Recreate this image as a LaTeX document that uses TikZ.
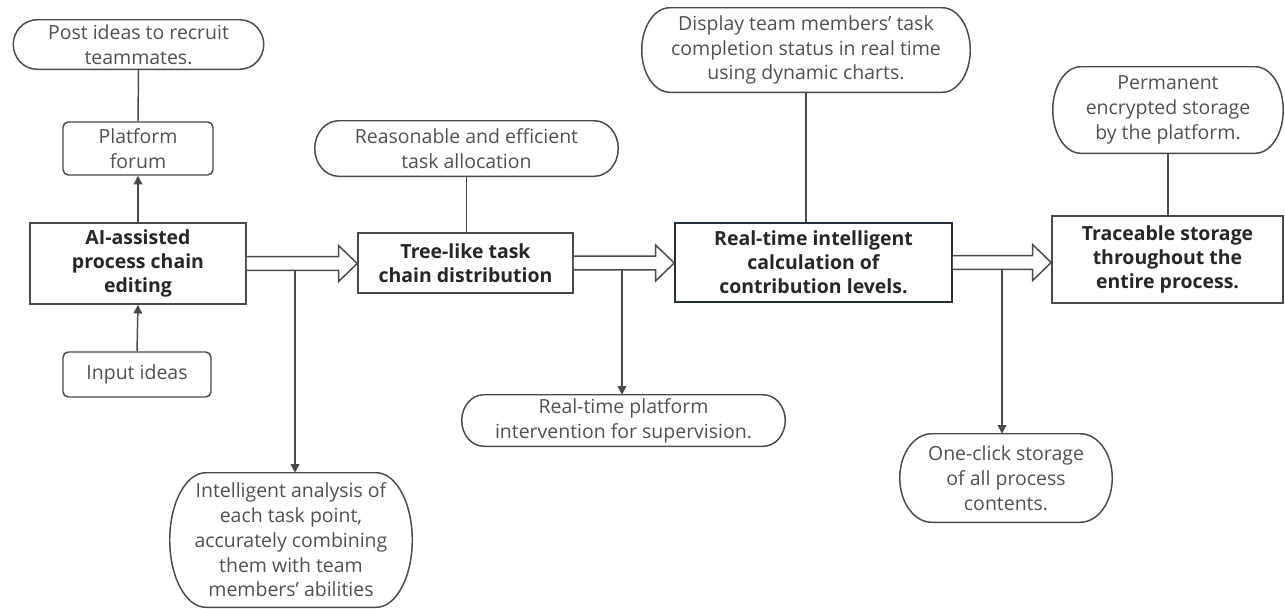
\documentclass[tikz,border=0pt]{standalone}
\usepackage{fontspec}
\setmainfont{Open Sans}
\usetikzlibrary{calc,arrows.meta}
\definecolor{linec}{HTML}{4A4A4A}
\definecolor{textc}{HTML}{505050}
\definecolor{boldc}{HTML}{262626}
\definecolor{calcc}{HTML}{26313F}
\tikzset{
  every node/.style={font=\fontsize{14.6}{18.6}\selectfont, text=textc, align=center, inner sep=0pt},
  sz/.style 2 args={minimum width=#1*0.75pt, minimum height=#2*0.75pt},
  mainbox/.style={draw=linec, line width=1.2pt, font=\fontsize{14.6}{18}\selectfont\bfseries, text=boldc},
  roundbox/.style={draw=linec, line width=1.1pt, rounded corners=4pt},
  pillnode/.style={draw=none},
  conn/.style={draw=linec, line width=1.1pt},
  arr/.style={conn, -{Triangle[length=6.5pt,width=6.5pt]}},
  hollow/.style={draw=linec, line width=1.1pt, fill=white, line join=miter}
}
\newcommand\drawpill[2]{%
  \draw[conn] ($(#1.north west)+(#2,0)$) -- ($(#1.north east)+(-#2,0)$)
    .. controls ($(#1.north east)+(-0.448*#2,0)$) and ($(#1.east)!0.552!(#1.north east)$) .. (#1.east)
    .. controls ($(#1.east)!0.552!(#1.south east)$) and ($(#1.south east)+(-0.448*#2,0)$) .. ($(#1.south east)+(-#2,0)$)
    -- ($(#1.south west)+(#2,0)$)
    .. controls ($(#1.south west)+(0.448*#2,0)$) and ($(#1.west)!0.552!(#1.south west)$) .. (#1.west)
    .. controls ($(#1.west)!0.552!(#1.north west)$) and ($(#1.north west)+(0.448*#2,0)$) .. cycle;}
\newcommand\hollowarrow[2]{%
  \draw[hollow] let \p1=(#1.east), \p2=(#2.west) in
    (\x1,\y1+5.1pt) -- (\x2-14pt,\y1+5.1pt) -- (\x2-14pt,\y1+13.5pt) -- (\x2,\y1)
    -- (\x2-14pt,\y1-13.5pt) -- (\x2-14pt,\y1-5.1pt) -- (\x1,\y1-5.1pt);}
\begin{document}
\begin{tikzpicture}[x=0.75pt,y=-0.75pt]
\useasboundingbox (0,0) rectangle (1285,608);
% pills
\node[pillnode, sz={250}{49}] (post) at (138.5,44.5) {Post ideas to recruit\\teammates.};
\node[pillnode, sz={242}{134}] (intel) at (291,540) {Intelligent analysis of\\each task point,\\accurately combining\\them with team\\members' abilities};
\node[pillnode, sz={303}{55}] (reason) at (466.5,148.5) {Reasonable and efficient\\task allocation};
\node[pillnode, sz={323}{51}] (superv) at (623.5,420.5) {Real-time platform\\intervention for supervision.};
\node[pillnode, sz={328}{84}] (display) at (806,50) {Display team members' task\\completion status in real time\\using dynamic charts.};
\node[pillnode, sz={230}{86}] (perm) at (1168,110) {Permanent\\encrypted storage\\by the platform.};
\node[pillnode, sz={212}{88}] (oneclick) at (1006,478) {One-click storage\\of all process\\contents.};
\drawpill{post}{24}
\drawpill{intel}{36}
\drawpill{reason}{24}
\drawpill{superv}{22}
\drawpill{display}{28}
\drawpill{perm}{28}
\drawpill{oneclick}{32}
% rounded boxes
\node[roundbox, sz={150}{53}] (forum) at (138,148.5) {Platform\\forum};
\node[roundbox, sz={148}{45}] (input) at (137,374.5) {Input ideas};
% main boxes
\node[mainbox, sz={216}{81}] (ai) at (138,263.5) {AI-assisted\\process chain\\editing};
\node[mainbox, sz={215}{60}] (tree) at (465.5,263) {Tree-like task\\chain distribution};
\node[mainbox, draw=calcc, sz={277}{79}] (calc) at (813.5,262.5) {Real-time intelligent\\calculation of\\contribution levels.};
\node[mainbox, sz={231}{87}] (trace) at (1167.5,259.5) {Traceable storage\\throughout the\\entire process.};
% connectors
\draw[arr] (ai.north) -- (forum.south);
\draw[conn] (forum.north) -- (post.south);
\draw[arr] (input.north) -- (ai.south);
\draw[conn] (tree.north -| reason.south) -- (reason.south);
\draw[conn] (calc.north -| display.south) -- (display.south);
\draw[conn] (trace.north -| perm.south) -- (perm.south);
% hollow arrows
\hollowarrow{ai}{tree}
\hollowarrow{tree}{calc}
\hollowarrow{calc}{trace}
% drop lines
\coordinate (d1) at (295,270.3);
\coordinate (d2) at (622,269.8);
\coordinate (d3) at (1002,269.3);
\draw[arr] (d1) -- (d1 |- intel.north);
\draw[arr] (d2) -- (d2 |- superv.north);
\draw[arr] (d3) -- (d3 |- oneclick.north);
\end{tikzpicture}
\end{document}
